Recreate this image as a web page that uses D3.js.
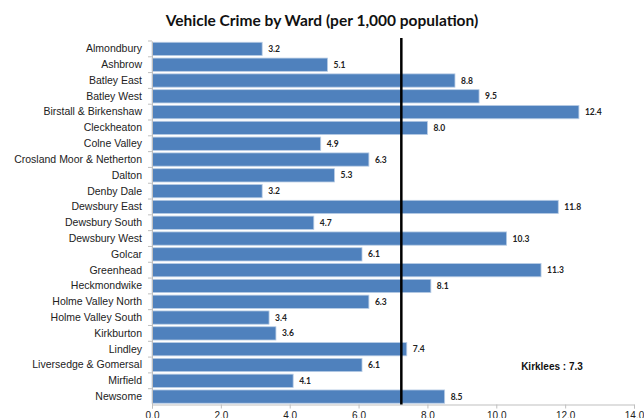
<!DOCTYPE html>
<html><head><meta charset="utf-8">
<script src="https://cdn.jsdelivr.net/npm/d3@7"></script>
<style>body{margin:0;background:#fff}svg{display:block}</style>
</head><body>
<svg id="c" width="644" height="418"></svg>
<script>
const wards = ["Almondbury","Ashbrow","Batley East","Batley West","Birstall & Birkenshaw","Cleckheaton","Colne Valley","Crosland Moor & Netherton","Dalton","Denby Dale","Dewsbury East","Dewsbury South","Dewsbury West","Golcar","Greenhead","Heckmondwike","Holme Valley North","Holme Valley South","Kirkburton","Lindley","Liversedge & Gomersal","Mirfield","Newsome"];
const rates = [3.2,5.1,8.8,9.5,12.4,8.0,4.9,6.3,5.3,3.2,11.8,4.7,10.3,6.1,11.3,8.1,6.3,3.4,3.6,7.4,6.1,4.1,8.5];
const kirkleesAvg = 7.3;
const xTicks = [0,2,4,6,8,10,12,14];
const title = "Vehicle Crime by Ward (per 1,000 population)";

const svg = d3.select("#c");
const x = d3.scaleLinear().domain([0,14]).range([152,634]);
const y = d3.scaleBand().domain(wards).range([41,404.5]).paddingInner(0.16).paddingOuter(0.08);

svg.append("text").attr("x",322).attr("y",26).attr("text-anchor","middle")
  .attr("font-family","Lato, 'Open Sans', sans-serif").attr("font-weight","bold").attr("font-size",15.5)
  .attr("fill","#111").text(title);

svg.selectAll("rect.bar").data(rates).join("rect").attr("class","bar")
  .attr("x",x(0)).attr("y",(d,i)=>y(wards[i]))
  .attr("width",d=>x(d)-x(0)).attr("height",y.bandwidth())
  .attr("fill","#4f81bd").attr("stroke","#b9cde5").attr("stroke-width",0.8);

svg.selectAll("text.val").data(rates).join("text").attr("class","val")
  .attr("x",d=>x(d)+6).attr("y",(d,i)=>y(wards[i])+y.bandwidth()/2+3)
  .attr("font-family","Lato, sans-serif").attr("font-weight","bold").attr("font-size",8.5)
  .attr("fill","#222").text(d=>d.toFixed(1));

// y axis
const ya = svg.append("g").attr("transform",`translate(${x(0)},0)`)
  .call(d3.axisLeft(y).tickSize(0).tickPadding(10));
ya.select(".domain").attr("stroke","#bfbfbf");
ya.selectAll("text").attr("font-family","'Liberation Sans', Arial, sans-serif").attr("font-size",10.5).attr("fill","#222");
// small separators on y axis
svg.selectAll("line.ysep").data(wards.slice(0)).join("line").attr("class","ysep")
  .attr("x1",x(0)-4).attr("x2",x(0))
  .attr("y1",d=>y(d)-y.step()*y.paddingInner()/2).attr("y2",d=>y(d)-y.step()*y.paddingInner()/2)
  .attr("stroke","#bfbfbf");

// x axis
const xa = svg.append("g").attr("transform","translate(0,404.5)")
  .call(d3.axisBottom(x).tickValues(xTicks).tickSize(4).tickPadding(3).tickFormat(d3.format(".1f")));
xa.select(".domain").attr("stroke","#bfbfbf");
xa.selectAll(".tick line").attr("stroke","#bfbfbf");
xa.selectAll("text").attr("font-family","'Liberation Sans', Arial, sans-serif").attr("font-size",10).attr("fill","#222");

// Kirklees average line
svg.append("line").attr("x1",x(kirkleesAvg)-2).attr("x2",x(kirkleesAvg)-2)
  .attr("y1",38).attr("y2",404.5).attr("stroke","#000").attr("stroke-width",2.5);

svg.append("text").attr("x",552).attr("y",370).attr("text-anchor","middle")
  .attr("font-family","'Liberation Sans', Arial, sans-serif").attr("font-weight","bold").attr("font-size",10)
  .attr("fill","#111").text("Kirklees : " + kirkleesAvg.toFixed(1));
</script>
</body></html>
